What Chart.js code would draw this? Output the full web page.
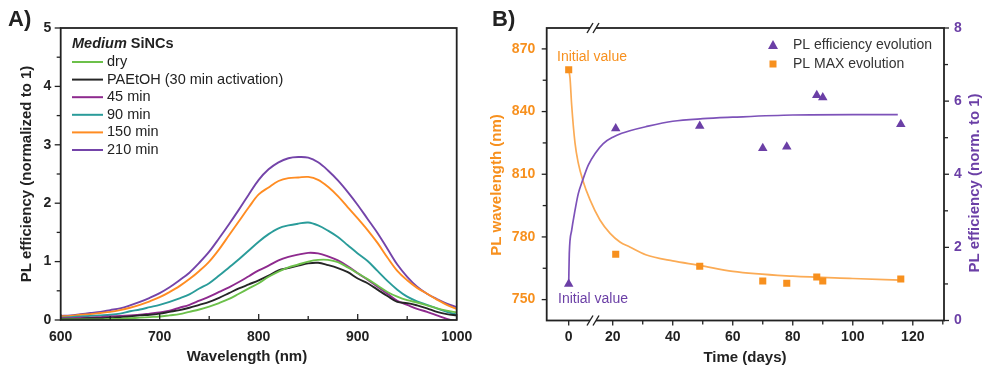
<!DOCTYPE html>
<html>
<head>
<meta charset="utf-8">
<script src="https://cdn.jsdelivr.net/npm/chart.js@4.4.0/dist/chart.umd.min.js"></script>
<style>
  html, body { margin: 0; padding: 0; background: #fff; }
  #wrap { position: relative; width: 984px; height: 367px; overflow: hidden; }
  #panelA { position: absolute; left: 0; top: 0; }
  #panelB { position: absolute; left: 490px; top: 0; }
</style>
</head>
<body>
<div id="wrap">
  <canvas id="panelA" width="490" height="367"></canvas>
  <canvas id="panelB" width="494" height="367"></canvas>
</div>
<script>
// ---------- Panel A: PL spectra, medium SiNCs ----------
const wavelengthNm = [600, 610, 620, 630, 640, 650, 660, 670, 680, 690, 700, 710, 720, 730, 740, 750,
  760, 770, 780, 790, 800, 810, 820, 830, 840, 850, 860, 870, 880, 890, 900, 910, 920, 930, 940, 950,
  960, 970, 980, 990, 1000];
const plDry = [0.01, 0.01, 0.01, 0.01, 0.01, 0.02, 0.02, 0.03, 0.04, 0.05, 0.06, 0.08, 0.10, 0.14, 0.18, 0.23,
  0.29, 0.36, 0.45, 0.54, 0.63, 0.74, 0.83, 0.90, 0.95, 1.00, 1.03, 1.03, 0.99, 0.90, 0.80, 0.70, 0.59, 0.48, 0.40, 0.34,
  0.30, 0.25, 0.20, 0.16, 0.13];
const plPaetoh = [0.02, 0.02, 0.02, 0.03, 0.03, 0.04, 0.05, 0.06, 0.08, 0.09, 0.11, 0.14, 0.17, 0.21, 0.26, 0.31,
  0.38, 0.46, 0.54, 0.61, 0.68, 0.76, 0.85, 0.89, 0.93, 0.97, 0.98, 0.94, 0.89, 0.82, 0.71, 0.63, 0.52, 0.41, 0.31, 0.29,
  0.25, 0.20, 0.14, 0.10, 0.08];
const pl45 = [0.03, 0.03, 0.04, 0.04, 0.05, 0.06, 0.07, 0.08, 0.09, 0.11, 0.13, 0.16, 0.21, 0.26, 0.33, 0.40,
  0.48, 0.56, 0.65, 0.75, 0.85, 0.93, 1.02, 1.08, 1.12, 1.15, 1.14, 1.09, 1.02, 0.92, 0.80, 0.69, 0.57, 0.45, 0.33, 0.26,
  0.19, 0.14, 0.08, 0.02, -0.03];
const pl90 = [0.04, 0.05, 0.06, 0.07, 0.08, 0.09, 0.11, 0.15, 0.18, 0.22, 0.26, 0.31, 0.37, 0.44, 0.54, 0.63,
  0.76, 0.90, 1.04, 1.19, 1.34, 1.47, 1.57, 1.62, 1.65, 1.67, 1.62, 1.53, 1.42, 1.28, 1.14, 1.01, 0.84, 0.67, 0.52, 0.40,
  0.32, 0.26, 0.20, 0.14, 0.09];
const pl150 = [0.06, 0.07, 0.09, 0.10, 0.12, 0.14, 0.17, 0.21, 0.26, 0.32, 0.39, 0.48, 0.58, 0.70, 0.84, 1.00,
  1.21, 1.45, 1.69, 1.93, 2.15, 2.27, 2.38, 2.43, 2.44, 2.45, 2.40, 2.28, 2.12, 1.93, 1.74, 1.54, 1.32, 1.07, 0.84, 0.68,
  0.55, 0.45, 0.35, 0.26, 0.19];
const pl210 = [0.07, 0.08, 0.10, 0.12, 0.14, 0.17, 0.20, 0.25, 0.31, 0.38, 0.46, 0.56, 0.68, 0.81, 0.98, 1.17,
  1.40, 1.64, 1.89, 2.15, 2.40, 2.58, 2.70, 2.77, 2.79, 2.78, 2.70, 2.56, 2.39, 2.19, 1.97, 1.73, 1.49, 1.22, 0.95, 0.74,
  0.57, 0.45, 0.36, 0.28, 0.22];
const seriesLabelsA = ['dry', 'PAEtOH (30 min activation)', '45 min', '90 min', '150 min', '210 min'];
const xMinorA = [650, 750, 850, 950];
const yMinorA = [0.5, 1.5, 2.5, 3.5, 4.5];

// ---------- Panel B: evolution with time ----------
const timeDays = [0, 21, 49, 70, 78, 88, 90, 116];
const plMaxNm = [860, 771.7, 766, 758.9, 757.8, 760.8, 758.9, 759.9];
const plEffNorm = [1.0, 5.25, 5.32, 4.71, 4.75, 6.16, 6.10, 5.37];
// fitted curves
const fitMaxDays = [0, 0.6, 1.36, 2.86, 4.36, 6.36, 9.7, 14.2, 18.8, 22.4, 25.7, 31, 40, 49, 60, 80, 100, 116];
const fitMaxNm = [860, 856, 843, 825, 815.3, 807.3, 797.7, 788.1, 781.7, 777.6, 775.2, 771.5, 768.5, 766.4, 763.5, 761.2, 760.1, 759.3];
const fitEffDays = [0, 0.27, 1.36, 2.86, 4.36, 6.36, 8.9, 12, 15.7, 20.2, 23, 25.7, 31, 40, 50, 60, 80, 100, 115];
const fitEff = [1.0, 1.83, 2.47, 3.01, 3.47, 3.84, 4.25, 4.57, 4.84, 5.02, 5.12, 5.19, 5.30, 5.45, 5.52, 5.56, 5.62, 5.63, 5.63];
const timeTicks = [0, 20, 30, 40, 50, 60, 70, 80, 90, 100, 110, 120, 130];
const timeLabels = [0, 20, 40, 60, 80, 100, 120];
const wlTicks = [750, 780, 810, 840, 870];
const wlMinor = [765, 795, 825, 855];
const effMinor = [1, 3, 5, 7];

const FONT = '"Liberation Sans", Arial, sans-serif';
const INK = '#222';
const ORANGE = '#f7901e';
const PURPLE = '#6b3fa6';
const colorsA = ['#6cc04a', '#262626', '#8e2a8e', '#2a9c9a', '#ff8c22', '#7444a9'];

function hTicks(ctx, scale, values, y, dy) {
  values.forEach(v => {
    const x = scale.getPixelForValue(v);
    ctx.beginPath(); ctx.moveTo(x, y); ctx.lineTo(x, y + dy); ctx.stroke();
  });
}
function vTicks(ctx, scale, values, x, dx) {
  values.forEach(v => {
    const y = scale.getPixelForValue(v);
    ctx.beginPath(); ctx.moveTo(x, y); ctx.lineTo(x + dx, y); ctx.stroke();
  });
}
function text(ctx, str, x, y, font, color, align, rot) {
  ctx.save();
  ctx.font = font; ctx.fillStyle = color;
  ctx.textAlign = align || 'left'; ctx.textBaseline = 'middle';
  ctx.translate(x, y);
  if (rot) ctx.rotate(rot);
  ctx.fillText(str, 0, 0);
  ctx.restore();
}

// ---------- Panel A chart ----------
const decorA = {
  id: 'decorA',
  afterDraw(chart) {
    const { ctx, chartArea: a } = chart;
    const sx = chart.scales.x, sy = chart.scales.y;
    ctx.save();
    ctx.strokeStyle = INK;
    ctx.lineWidth = 1.8;
    ctx.strokeRect(a.left, a.top, a.right - a.left, a.bottom - a.top);
    ctx.lineWidth = 1.3;
    hTicks(ctx, sx, [600, 700, 800, 900, 1000], a.bottom, -6);
    hTicks(ctx, sx, xMinorA, a.bottom, -4);
    vTicks(ctx, sy, [0, 1, 2, 3, 4, 5], a.left, -6);
    vTicks(ctx, sy, yMinorA, a.left, -4);

    text(ctx, 'A)', 8, 20, 'bold 22px ' + FONT, INK);
    text(ctx, 'Wavelength (nm)', 247, 357, 'bold 15px ' + FONT, INK, 'center');
    text(ctx, 'PL efficiency (normalized to 1)', 27, 174, 'bold 15px ' + FONT, INK, 'center', -Math.PI / 2);

    // legend
    ctx.font = 'italic bold 14.5px ' + FONT;
    const w = ctx.measureText('Medium ').width;
    text(ctx, 'Medium ', 72, 44, 'italic bold 14.5px ' + FONT, INK);
    text(ctx, 'SiNCs', 72 + w, 44, 'bold 14.5px ' + FONT, INK);
    seriesLabelsA.forEach((lab, i) => {
      const y = 62 + i * 17.6;
      ctx.strokeStyle = colorsA[i]; ctx.lineWidth = 2;
      ctx.beginPath(); ctx.moveTo(72, y); ctx.lineTo(103, y); ctx.stroke();
      text(ctx, lab, 107, y, '14.5px ' + FONT, INK);
    });
    ctx.restore();
  }
};

const spectra = [plDry, plPaetoh, pl45, pl90, pl150, pl210];
new Chart(document.getElementById('panelA'), {
  type: 'line',
  data: {
    datasets: spectra.map((vals, i) => ({
      label: seriesLabelsA[i],
      data: wavelengthNm.map((x, j) => ({ x: x, y: vals[j] })),
      borderColor: colorsA[i],
      borderWidth: 1.9,
      pointRadius: 0,
      tension: 0.35,
      fill: false
    }))
  },
  options: {
    responsive: false,
    animation: false,
    devicePixelRatio: 1,
    layout: { padding: { left: 0, right: 33.3, top: 28, bottom: 0 } },
    plugins: { legend: { display: false }, tooltip: { enabled: false } },
    scales: {
      x: {
        type: 'linear', min: 600, max: 1000,
        afterFit: s => { s.height = 47; },
        grid: { display: false, drawTicks: false },
        border: { display: false },
        ticks: {
          stepSize: 100, padding: 8.6, color: INK, font: { family: FONT, size: 14, weight: 'bold' },
          callback: v => String(v)
        }
      },
      y: {
        min: 0, max: 5,
        afterFit: s => { s.width = 60.7; },
        grid: { display: false, drawTicks: false },
        border: { display: false },
        ticks: { stepSize: 1, padding: 9.5, color: INK, font: { family: FONT, size: 14, weight: 'bold' } }
      }
    }
  },
  plugins: [decorA]
});

// ---------- Panel B chart ----------
// time axis with a break between 0 and 20 days
const BREAK_END = 20, AXIS_ZERO = 5.33;
function daysToAxis(d) { return d < BREAK_END ? AXIS_ZERO + d * (BREAK_END - AXIS_ZERO) / BREAK_END : d; }
function axisToDays(u) { return u < BREAK_END ? (u - AXIS_ZERO) * BREAK_END / (BREAK_END - AXIS_ZERO) : u; }

class BrokenLinearScale extends Chart.LinearScale {
  getPixelForValue(value) {
    if (value === null || value === undefined || isNaN(value)) return NaN;
    return super.getPixelForValue(daysToAxis(value));
  }
  getValueForPixel(pixel) {
    return axisToDays(super.getValueForPixel(pixel));
  }
}
BrokenLinearScale.id = 'brokenLinear';
BrokenLinearScale.defaults = Chart.LinearScale.defaults;
Chart.register(BrokenLinearScale);

const OFF = 490; // canvas B left offset in page coords
const decorB = {
  id: 'decorB',
  afterDraw(chart) {
    const { ctx, chartArea: a } = chart;
    const sx = chart.scales.x, sl = chart.scales.yWl, sr = chart.scales.yEff;
    ctx.save();
    ctx.strokeStyle = INK;
    ctx.lineWidth = 1.8;
    ctx.strokeRect(a.left, a.top, a.right - a.left, a.bottom - a.top);
    ctx.lineWidth = 1.3;
    hTicks(ctx, sx, timeLabels, a.bottom, 5);
    hTicks(ctx, sx, timeTicks.filter(t => timeLabels.indexOf(t) < 0), a.bottom, 4);
    vTicks(ctx, sl, wlTicks, a.left, -5);
    vTicks(ctx, sl, wlMinor, a.left, -4);
    vTicks(ctx, sr, [0, 2, 4, 6, 8], a.right, 5);
    vTicks(ctx, sr, effMinor, a.right, 4);

    // axis break marks
    const bx = 593 - OFF;
    [a.top, a.bottom].forEach(y => {
      ctx.fillStyle = '#fff';
      ctx.fillRect(bx - 3, y - 2, 6, 4);
      ctx.strokeStyle = INK; ctx.lineWidth = 1.4;
      [-3, 3].forEach(d => {
        ctx.beginPath(); ctx.moveTo(bx + d - 3, y + 5); ctx.lineTo(bx + d + 3, y - 5); ctx.stroke();
      });
    });

    text(ctx, 'B)', 492 - OFF, 20, 'bold 22px ' + FONT, INK);
    text(ctx, 'Time (days)', 745 - OFF, 358, 'bold 15px ' + FONT, INK, 'center');
    text(ctx, 'PL wavelength (nm)', 497 - OFF, 185, 'bold 15px ' + FONT, ORANGE, 'center', -Math.PI / 2);
    text(ctx, 'PL efficiency (norm. to 1)', 975 - OFF, 183, 'bold 15px ' + FONT, PURPLE, 'center', -Math.PI / 2);
    text(ctx, 'Initial value', 557 - OFF, 57, '14px ' + FONT, ORANGE);
    text(ctx, 'Initial value', 558 - OFF, 299, '14px ' + FONT, PURPLE);

    // legend
    const lx = 773 - OFF;
    ctx.fillStyle = PURPLE;
    ctx.beginPath(); ctx.moveTo(lx, 40); ctx.lineTo(lx + 5, 49); ctx.lineTo(lx - 5, 49); ctx.closePath(); ctx.fill();
    ctx.fillStyle = ORANGE;
    ctx.fillRect(lx - 3.5, 60.5, 7, 7);
    text(ctx, 'PL efficiency evolution', 793 - OFF, 45, '14px ' + FONT, '#333');
    text(ctx, 'PL MAX evolution', 793 - OFF, 64, '14px ' + FONT, '#333');
    ctx.restore();
  }
};

const tickFont = { family: FONT, size: 14, weight: 'bold' };
new Chart(document.getElementById('panelB'), {
  type: 'line',
  data: {
    datasets: [
      {
        label: 'PL efficiency evolution',
        data: timeDays.map((d, i) => ({ x: d, y: plEffNorm[i] })),
        yAxisID: 'yEff', showLine: false,
        pointStyle: 'triangle', pointRadius: 5.5, pointBorderWidth: 0,
        backgroundColor: PURPLE, borderColor: PURPLE, order: 0
      },
      {
        label: 'PL MAX evolution',
        data: timeDays.map((d, i) => ({ x: d, y: plMaxNm[i] })),
        yAxisID: 'yWl', showLine: false,
        pointStyle: 'rect', pointRadius: 5, pointBorderWidth: 0,
        backgroundColor: ORANGE, borderColor: ORANGE, order: 0
      },
      {
        label: 'efficiency fit',
        data: fitEffDays.map((d, i) => ({ x: d, y: fitEff[i] })),
        yAxisID: 'yEff', pointRadius: 0, borderWidth: 1.7,
        borderColor: '#7d52b9', cubicInterpolationMode: 'monotone', order: 1
      },
      {
        label: 'PL max fit',
        data: fitMaxDays.map((d, i) => ({ x: d, y: fitMaxNm[i] })),
        yAxisID: 'yWl', pointRadius: 0, borderWidth: 1.7,
        borderColor: '#fbab55', cubicInterpolationMode: 'monotone', order: 1
      }
    ]
  },
  options: {
    responsive: false,
    animation: false,
    devicePixelRatio: 1,
    layout: { padding: { left: 0, right: 0, top: 28, bottom: 0 } },
    plugins: { legend: { display: false }, tooltip: { enabled: false } },
    scales: {
      x: {
        type: 'brokenLinear', min: -2, max: 130.4, bounds: 'data',
        afterFit: s => { s.height = 46.5; },
        afterBuildTicks: s => { s.ticks = timeTicks.map(v => ({ value: v })); },
        grid: { display: false, drawTicks: false },
        border: { display: false },
        ticks: {
          autoSkip: false, padding: 8, color: INK, font: tickFont,
          callback: v => (timeLabels.indexOf(v) >= 0 ? String(v) : '')
        }
      },
      yWl: {
        type: 'linear', position: 'left', min: 740, max: 880, bounds: 'data',
        afterFit: s => { s.width = 56.7; },
        afterBuildTicks: s => { s.ticks = wlTicks.map(v => ({ value: v })); },
        grid: { display: false, drawTicks: false },
        border: { display: false },
        ticks: { autoSkip: false, padding: 11.5, color: ORANGE, font: tickFont }
      },
      yEff: {
        type: 'linear', position: 'right', min: 0, max: 8,
        afterFit: s => { s.width = 40; },
        grid: { display: false, drawTicks: false },
        border: { display: false },
        ticks: { stepSize: 2, padding: 10, color: PURPLE, font: tickFont }
      }
    }
  },
  plugins: [decorB]
});
</script>
</body>
</html>
